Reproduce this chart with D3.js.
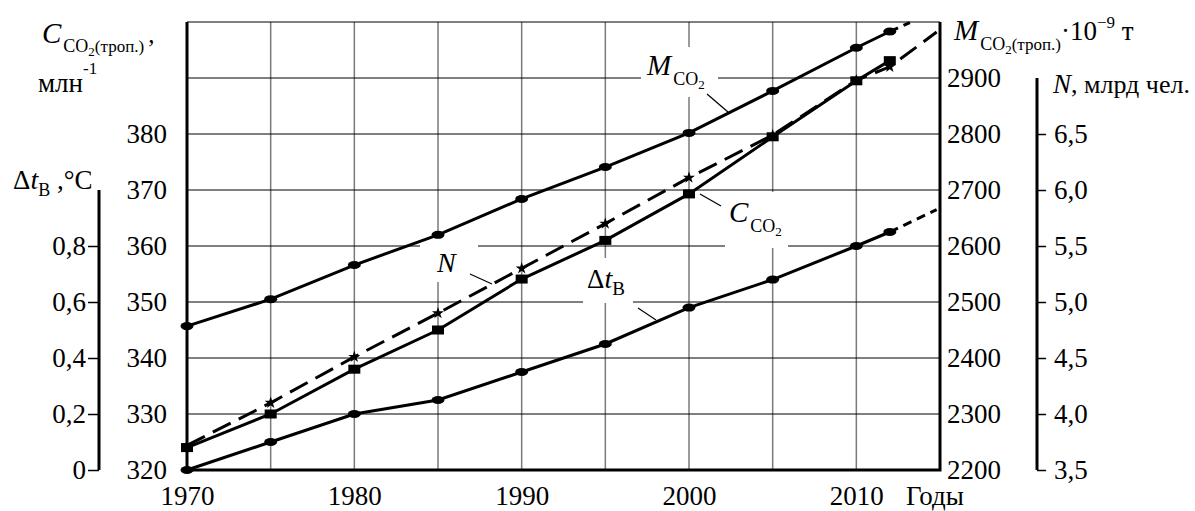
<!DOCTYPE html>
<html>
<head>
<meta charset="utf-8">
<script src="https://cdn.jsdelivr.net/npm/d3@7"></script>
<style>
body { margin: 0; background: #fff; }
text { font-family: "Liberation Serif", "DejaVu Serif", "Noto Serif", "Liberation Sans", Arimo, sans-serif; fill: #000; }
</style>
</head>
<body>
<script>
let width = 1195
let height = 511
let font = '"Liberation Serif", "DejaVu Serif", "Noto Serif", "Liberation Sans", Arimo, sans-serif'

// data
let years = [1970, 1975, 1980, 1985, 1990, 1995, 2000, 2005, 2010, 2012]
let c_co2 = [324.0, 330.0, 338.0, 345.0, 354.1, 361.0, 369.3, 379.5, 389.5, 393.1]
let m_co2 = [2457, 2505, 2566, 2620, 2684, 2741, 2802, 2877, 2954, 2983]
let people = [3.72, 4.10, 4.51, 4.90, 5.30, 5.70, 6.11, 6.49, 6.98, 7.10]
let dt = [0, 0.10, 0.20, 0.25, 0.35, 0.45, 0.58, 0.68, 0.80, 0.85]
// dashed continuations past the last marker
let m_tail = [[2012, 2983], [2013.2, 2999]]
let people_tail = [[2012, 7.10], [2014.8, 7.41]]
let dt_tail = [[2012, 0.85], [2014.8, 0.93]]

let year_ticks = [1970, 1980, 1990, 2000, 2010]
let grid_years = [1975, 1980, 1985, 1990, 1995, 2000, 2005, 2010]
let c_ticks = [320, 330, 340, 350, 360, 370, 380]
let grid_c = [330, 340, 350, 360, 370, 380, 390]
let m_ticks = [2200, 2300, 2400, 2500, 2600, 2700, 2800, 2900]
let n_ticks = [3.5, 4.0, 4.5, 5.0, 5.5, 6.0, 6.5]
let dt_ticks = [0, 0.2, 0.4, 0.6, 0.8]

let p_left = 187, p_right = 940, p_top = 22, p_bottom = 470
let tick_size = 27

let x = d3.scaleLinear().domain([1970, 2015]).range([p_left, p_right])
let yC = d3.scaleLinear().domain([320, 400]).range([p_bottom, p_top])
let yM = d3.scaleLinear().domain([2200, 3000]).range([p_bottom, p_top])
let yN = d3.scaleLinear().domain([3.5, 7.5]).range([p_bottom, p_top])
let yT = d3.scaleLinear().domain([0, 1]).range([p_bottom, 190])

let comma = d => d === 0 ? '0' : d.toFixed(1).replace('.', ',')

let svg = d3.select('body').append('svg')
    .attr('width', width)
    .attr('height', height)

svg.append('rect').attr('width', width).attr('height', height).attr('fill', '#fff')

// grid
svg.selectAll('line.vgrid').data(grid_years).enter()
    .append('line')
    .attr('x1', d => x(d)).attr('x2', d => x(d))
    .attr('y1', p_top).attr('y2', p_bottom)
    .attr('stroke', '#7a7a7a').attr('stroke-width', 1.5)
svg.selectAll('line.hgrid').data(grid_c).enter()
    .append('line')
    .attr('x1', p_left).attr('x2', p_right)
    .attr('y1', d => yC(d)).attr('y2', d => yC(d))
    .attr('stroke', '#000').attr('stroke-width', 1)
svg.append('line')
    .attr('x1', p_left).attr('x2', p_right)
    .attr('y1', yC(400)).attr('y2', yC(400))
    .attr('stroke', '#000').attr('stroke-width', 1.2)

// white patches behind the in-plot labels
let patches = [
    {x: 641, y: 47, w: 77, h: 50},
    {x: 725, y: 192, w: 63, h: 56},
    {x: 420, y: 238, w: 58, h: 44},
    {x: 583, y: 258, w: 50, h: 45}
]
svg.selectAll('rect.patch').data(patches).enter()
    .append('rect')
    .attr('x', d => d.x).attr('y', d => d.y)
    .attr('width', d => d.w).attr('height', d => d.h)
    .attr('fill', '#fff')

// frame
svg.append('path')
    .attr('d', `M${p_left},${p_top}V${p_bottom}H${p_right}V${p_top}`)
    .attr('fill', 'none').attr('stroke', '#000').attr('stroke-width', 3)

function styleAxis(g) {
    g.select('.domain').remove()
    g.attr('font-family', font).attr('font-size', tick_size)
    g.selectAll('line').attr('stroke', '#000').attr('stroke-width', 1.5)
}

svg.append('g')
    .attr('transform', `translate(${p_left},0)`)
    .call(d3.axisLeft(yC).tickValues(c_ticks).tickSize(0).tickPadding(20))
    .call(styleAxis)
svg.append('g')
    .attr('transform', `translate(${p_right},0)`)
    .call(d3.axisRight(yM).tickValues(m_ticks).tickSize(0).tickPadding(7).tickFormat(d3.format('d')))
    .call(styleAxis)
svg.append('g')
    .attr('transform', `translate(0,${p_bottom})`)
    .call(d3.axisBottom(x).tickValues(year_ticks).tickSize(0).tickPadding(16).tickFormat(d3.format('d')))
    .call(styleAxis)

// N axis
let nx = 1037
svg.append('line')
    .attr('x1', nx).attr('x2', nx).attr('y1', yN(3.5)).attr('y2', yN(7.0))
    .attr('stroke', '#000').attr('stroke-width', 3)
svg.append('g')
    .attr('transform', `translate(${nx},0)`)
    .call(d3.axisRight(yN).tickValues(n_ticks).tickSize(9).tickPadding(8).tickFormat(comma))
    .call(styleAxis)

// delta t axis
let tx = 99
svg.append('line')
    .attr('x1', tx).attr('x2', tx).attr('y1', yT(0)).attr('y2', yT(1))
    .attr('stroke', '#000').attr('stroke-width', 3)
svg.append('g')
    .attr('transform', `translate(${tx},0)`)
    .call(d3.axisLeft(yT).tickValues(dt_ticks).tickSize(11).tickPadding(2).tickFormat(comma))
    .call(styleAxis)

// series
function pairs(vals) { return years.map((yr, i) => [yr, vals[i]]) }
function drawLine(data, scale, dash) {
    svg.append('path')
        .datum(data)
        .attr('d', d3.line().x(d => x(d[0])).y(d => scale(d[1])))
        .attr('fill', 'none')
        .attr('stroke', '#000')
        .attr('stroke-width', 3)
        .attr('stroke-dasharray', dash)
}

drawLine(pairs(m_co2), yM, null)
drawLine(m_tail, yM, '9,6')
drawLine(pairs(dt), yT, null)
drawLine(dt_tail, yT, '9,6')
drawLine(pairs(c_co2), yC, null)
drawLine(pairs(people).concat(people_tail.slice(1)), yN, '20,9')

svg.selectAll('ellipse.m').data(pairs(m_co2)).enter()
    .append('ellipse')
    .attr('cx', d => x(d[0])).attr('cy', d => yM(d[1]))
    .attr('rx', 6.5).attr('ry', 4)
svg.selectAll('ellipse.t').data(pairs(dt)).enter()
    .append('ellipse')
    .attr('cx', d => x(d[0])).attr('cy', d => yT(d[1]))
    .attr('rx', 6.5).attr('ry', 4)
svg.selectAll('rect.c').data(pairs(c_co2)).enter()
    .append('rect')
    .attr('x', d => x(d[0]) - 6).attr('y', d => yC(d[1]) - 4.5)
    .attr('width', 12).attr('height', 9)
svg.selectAll('path.n').data(pairs(people)).enter()
    .append('path')
    .attr('transform', d => `translate(${x(d[0])},${yN(d[1])})`)
    .attr('d', d3.symbol().type(d3.symbolStar).size(45))

// leader lines
let leaders = [
    [707, 94, 728, 112],
    [700, 194, 721, 206],
    [470, 274, 492, 284],
    [638, 308, 656, 320]
]
svg.selectAll('line.leader').data(leaders).enter()
    .append('line')
    .attr('x1', d => d[0]).attr('y1', d => d[1])
    .attr('x2', d => d[2]).attr('y2', d => d[3])
    .attr('stroke', '#000').attr('stroke-width', 1.2)

// text helper: parts = [text, size, dy, italic, dx]
function rich(px, py, parts) {
    let t = svg.append('text').attr('x', px).attr('y', py)
    parts.forEach(p => {
        t.append('tspan')
            .text(p[0])
            .attr('font-size', p[1])
            .attr('dy', p[2] || 0)
            .attr('dx', p[4] || 0)
            .attr('font-style', p[3] ? 'italic' : 'normal')
    })
    return t
}

// in-plot labels
rich(647, 75, [['M', 29, 0, true], ['CO', 18, 10, false, 2], ['2', 13, 4]])
rich(729, 222, [['C', 29, 0, true], ['CO', 18, 10, false, 2], ['2', 13, 4]])
rich(437, 272, [['N', 28, 0, true]])
rich(587, 288, [['Δ', 27, 0], ['t', 28, 0, true], ['B', 19, 7]])

// axis titles
rich(42, 43, [['C', 29, 0, true], ['CO', 18, 9, false, 2], ['2', 13, 4], ['(троп.)', 17, -4], [',', 25, -9, false, 4]])
rich(38, 92, [['млн', 27, 0], ['-1', 17, -18]])
rich(13, 189, [['Δ', 27, 0], ['t', 28, 0, true], ['B', 18, 7], [' ,°C', 27, -7]])
rich(954, 40, [['M', 29, 0, true], ['CO', 18, 10, false, 2], ['2', 13, 4], ['(троп.)', 17, -4], ['·10', 27, -10], ['−9', 17, -12], [' т', 27, 12]])
rich(1053, 93, [['N', 27, 0, true], [', млрд чел.', 26, 0]])
rich(906, 505, [['Годы', 27, 0]])
</script>
</body>
</html>
